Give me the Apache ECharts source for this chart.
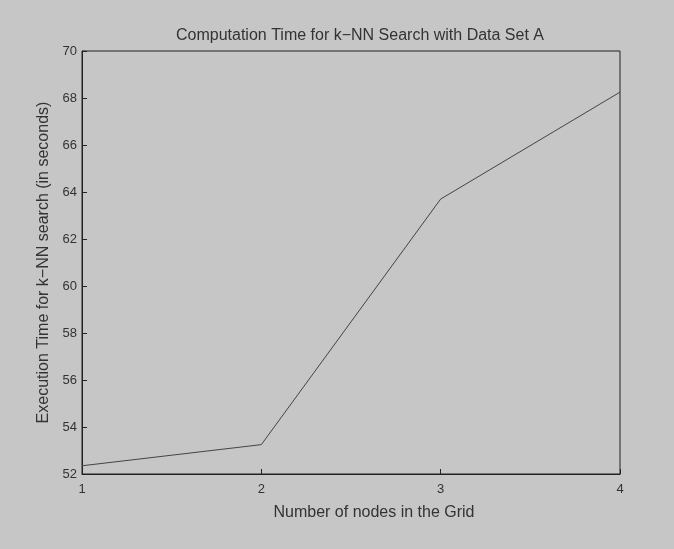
<!DOCTYPE html>
<html>
<head>
<meta charset="utf-8">
<script src="https://cdn.jsdelivr.net/npm/echarts@6/dist/echarts.min.js"></script>
<style>html,body{margin:0;padding:0;background:#c6c6c6;}#c{width:674px;height:549px;}</style>
</head>
<body>
<div id="c"></div>
<script>
var categories = [1, 2, 3, 4];
var execTime = [52.35, 53.25, 63.7, 68.25];
var yTicks = [52, 54, 56, 58, 60, 62, 64, 66, 68, 70];

var chart = echarts.init(document.getElementById('c'));
var font = 'Liberation Sans, Arial, sans-serif';
chart.setOption({
  backgroundColor: '#c6c6c6',
  animation: false,
  title: {
    text: 'Computation Time for k\u2212NN Search with Data Set A',
    left: 355, top: 23, textAlign: 'center',
    textStyle: {fontFamily: font, fontSize: 16, fontWeight: 'normal', color: '#333'}
  },
  grid: {left: 82, right: 54, top: 51, bottom: 75, show: true, borderColor: '#222', borderWidth: 1, backgroundColor: 'transparent'},
  xAxis: {
    type: 'value', min: 1, max: 4, interval: 1,
    name: 'Number of nodes in the Grid', nameLocation: 'middle', nameGap: 31,
    nameTextStyle: {fontFamily: font, fontSize: 16, color: '#333', padding: [0, 0, 0, 46]},
    axisLine: {show: true, lineStyle: {color: '#222'}},
    axisTick: {show: true, inside: true, length: 5, lineStyle: {color: '#222'}},
    axisLabel: {fontFamily: font, fontSize: 13, color: '#333', margin: 9,
      formatter: function (v) { return categories.indexOf(v) >= 0 ? String(v) : ''; }},
    splitLine: {show: false}
  },
  yAxis: {
    type: 'value', min: yTicks[0], max: yTicks[yTicks.length - 1], interval: 2,
    name: 'Execution Time for k\u2212NN search (in seconds)', nameLocation: 'middle', nameGap: 30,
    nameTextStyle: {fontFamily: font, fontSize: 16, color: '#333'},
    axisLine: {show: true, lineStyle: {color: '#222'}},
    axisTick: {show: true, inside: true, length: 5, lineStyle: {color: '#222'}},
    axisLabel: {fontFamily: font, fontSize: 13, color: '#333', margin: 5},
    splitLine: {show: false}
  },
  series: [{
    type: 'line',
    data: categories.map(function (c, i) { return [c, execTime[i]]; }),
    symbol: 'none',
    lineStyle: {color: '#444', width: 1}
  }]
});
</script>
</body>
</html>
